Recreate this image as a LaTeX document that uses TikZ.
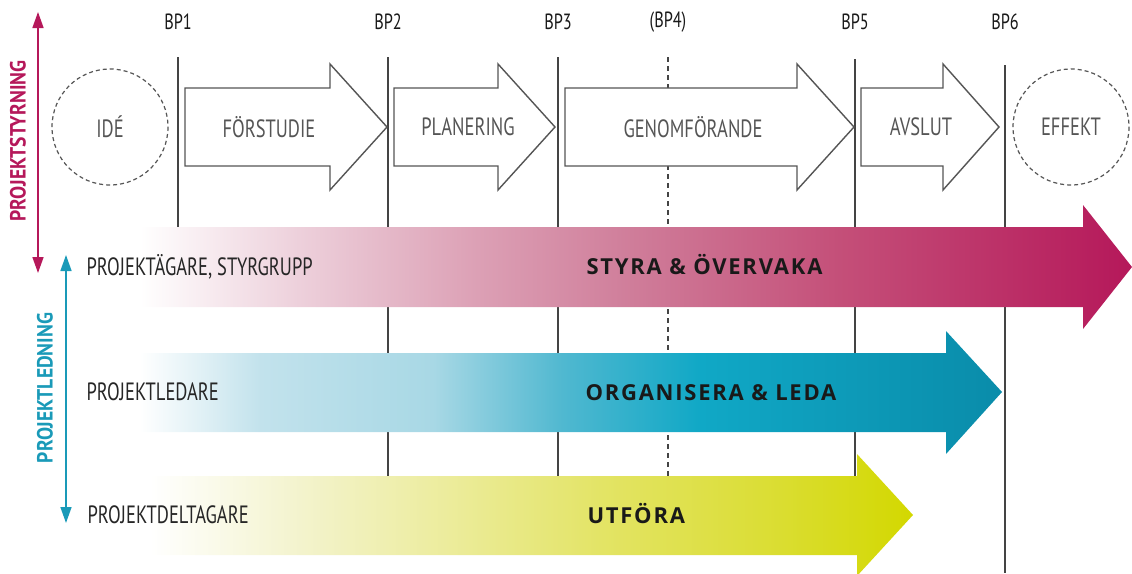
\documentclass[tikz,border=0pt]{standalone}
\usepackage{fontspec}
\setmainfont{PT Sans}
\newfontfamily\cond[FakeStretch=0.74]{PT Sans}
\newfontfamily\condside[FakeStretch=0.89]{PT Sans}
\newfontfamily\wide[LetterSpace=8]{Open Sans}
\usetikzlibrary{arrows.meta}
\definecolor{mag}{HTML}{B5185A}
\definecolor{tealarrow}{HTML}{1A9AB8}
\definecolor{linegray}{HTML}{444444}
\definecolor{txtgray}{HTML}{555555}
\definecolor{pA}{HTML}{EDD0DB}
\definecolor{pB}{HTML}{DCA0B5}
\definecolor{pC}{HTML}{CF7C99}
\definecolor{pD}{HTML}{C44E78}
\definecolor{tA}{HTML}{C2E2EC}
\definecolor{tB}{HTML}{A8D8E5}
\definecolor{tC}{HTML}{50B8D0}
\definecolor{tD}{HTML}{10A8C6}
\definecolor{tE}{HTML}{0A8CAA}
\definecolor{yA}{HTML}{F3F3CC}
\definecolor{yB}{HTML}{ECEC9C}
\definecolor{yC}{HTML}{E3E466}
\definecolor{yD}{HTML}{DADD30}
\definecolor{yE}{HTML}{D3D800}
\pgfdeclarehorizontalshading{magsh}{100bp}{color(0bp)=(white); color(25bp)=(white); color(33bp)=(pA); color(42bp)=(pB); color(50bp)=(pC); color(60.5bp)=(pD); color(75bp)=(mag); color(100bp)=(mag)}
\pgfdeclarehorizontalshading{tealsh}{100bp}{color(0bp)=(white); color(25bp)=(white); color(32bp)=(tA); color(42bp)=(tB); color(49.5bp)=(tC); color(57.5bp)=(tD); color(75bp)=(tE); color(100bp)=(tE)}
\pgfdeclarehorizontalshading{yelsh}{100bp}{color(0bp)=(white); color(25bp)=(white); color(35bp)=(yA); color(44.5bp)=(yB); color(54.5bp)=(yC); color(66.5bp)=(yD); color(75bp)=(yE); color(100bp)=(yE)}
\tikzset{
  bpline/.style={draw=linegray, line width=1.3pt},
  bpdash/.style={draw=linegray, line width=1.3pt, dash pattern=on 5pt off 4pt},
  proc/.style={draw=txtgray, line width=1.4pt, fill=white, line join=miter},
  phase/.style={font=\cond\fontsize{25}{25}\selectfont, text=txtgray},
  bplabel/.style={font=\cond\fontsize{22}{22}\selectfont, text=black!90},
  role/.style={font=\cond\fontsize{25}{25}\selectfont, text=black!85, anchor=west},
  task/.style={font=\wide\bfseries\fontsize{22}{22}\selectfont, text=black!90, anchor=west},
  sidelabel/.style={font=\condside\bfseries\fontsize{22}{22}\selectfont, rotate=90},
  circ/.style={draw=txtgray, line width=1.2pt, dash pattern=on 4pt off 3pt},
  sidearrow/.style={line width=1.5pt, {Triangle[width=11pt,length=16pt]}-{Triangle[width=11pt,length=16pt]}},
}
\newcommand\procarrow[3]{%
  \draw[proc] (#1,88) -- (#2,88) -- (#2,64) -- (#3,127) -- (#2,190) -- (#2,166) -- (#1,166) -- cycle;}
\begin{document}
\begin{tikzpicture}[x=1pt,y=-1pt]
\useasboundingbox (0,0) rectangle (1132,573);
% milestone lines
\draw[bpline] (178,57) -- (178,227);
\draw[bpline] (388,57) -- (388,477);
\draw[bpline] (558,57) -- (558,477);
\draw[bpdash] (668,57) -- (668,477);
\draw[bpline] (855,59) -- (855,477);
\draw[bpline] (1005,65) -- (1005,573);
% milestone labels
\node[bplabel] (bp1) at (178,22) {BP1};
\node[bplabel] (bp2) at (388,22) {BP2};
\node[bplabel] (bp3) at (558,22) {BP3};
\node[bplabel] (bp4) at (668,22) {(BP4)};
\node[bplabel] (bp5) at (855,22) {BP5};
\node[bplabel] (bp6) at (1005,22) {BP6};
% phases
\draw[circ] (110,127) circle (58);
\node[phase] (ide) at (110,127) {IDÉ};
\procarrow{185}{330}{387}
\node[phase] (forstudie) at (269,127) {FÖRSTUDIE};
\procarrow{394}{498}{555}
\node[phase] (planering) at (468,127) {PLANERING};
\procarrow{565}{797}{854}
\node[phase] (genomforande) at (693,127) {GENOMFÖRANDE};
\procarrow{861}{943}{999}
\node[phase] (avslut) at (921,127) {AVSLUT};
\draw[circ] (1071,127) circle (58);
\node[phase] (effekt) at (1071,127) {EFFEKT};
% bands
\shade[shading=magsh]
  (140,227) -- (1083,227) -- (1083,205) -- (1132,267) -- (1083,329) -- (1083,307) -- (140,307) -- cycle;
\shade[shading=tealsh]
  (140,353) -- (946,353) -- (946,331) -- (1002,392) -- (946,454) -- (946,432) -- (140,432) -- cycle;
\shade[shading=yelsh]
  (150,476) -- (857,476) -- (857,454) -- (913,515) -- (857,576) -- (857,555) -- (150,555) -- cycle;
% texts
\node[role] (owner) at (83,267) {PROJEKTÄGARE, STYRGRUPP};
\node[role] (leader) at (83,392) {PROJEKTLEDARE};
\node[role] (members) at (84,515) {PROJEKTDELTAGARE};
\node[task] (styra) at (583,265) {STYRA \& ÖVERVAKA};
\node[task] (org) at (582,393) {ORGANISERA \& LEDA};
\node[task] (utfora) at (584,514) {UTFÖRA};
% side arrows
\draw[mag, sidearrow] (38,12) -- (38,273);
\node[sidelabel, text=mag] (styrning) at (18,141) {PROJEKTSTYRNING};
\draw[tealarrow, sidearrow] (66,255) -- (66,523);
\node[sidelabel, text=tealarrow] (ledning) at (45,388) {PROJEKTLEDNING};
\end{tikzpicture}
\end{document}
